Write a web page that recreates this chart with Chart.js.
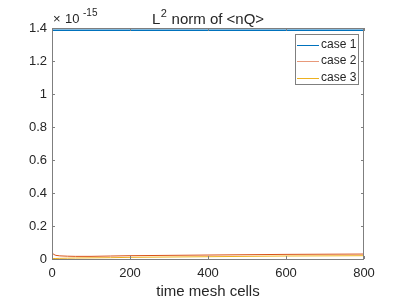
<!DOCTYPE html>
<html>
<head>
<meta charset="utf-8">
<script src="https://cdn.jsdelivr.net/npm/chart.js@4/dist/chart.umd.min.js"></script>
<style>
  html, body { margin: 0; padding: 0; background: #fff; }
  #wrap { width: 402px; height: 301px; }
</style>
</head>
<body>
<div id="wrap"><canvas id="normChart"></canvas></div>
<script>
// values are in units of 1e-15
const caseLabels = ['case 1', 'case 2', 'case 3'];
const caseColors = ['#0072BD', '#D95319', '#EDB120'];
const meshCells = [0, 5, 10, 20, 40, 60, 100, 150, 200, 300, 400, 500, 600, 700, 800];
const case1 = [1.387, 1.387, 1.387, 1.387, 1.387, 1.387, 1.387, 1.387, 1.387, 1.387, 1.387, 1.387, 1.387, 1.387, 1.387];
const case2 = [0.038, 0.027, 0.022, 0.019, 0.017, 0.016, 0.016, 0.018, 0.020, 0.022, 0.024, 0.026, 0.028, 0.029, 0.030];
const case3 = [0.003, 0.003, 0.003, 0.004, 0.005, 0.006, 0.007, 0.008, 0.010, 0.012, 0.014, 0.016, 0.018, 0.019, 0.020];
const xTicks = [0, 200, 400, 600, 800];
const yTicks = [0, 0.2, 0.4, 0.6, 0.8, 1, 1.2, 1.4];

const fontFamily = '"Liberation Sans", Arial, Helvetica, sans-serif';
const axisColor = '#262626';

function toPoints(ys) {
    return meshCells.map((x, i) => ({ x: x, y: ys[i] }));
}

// MATLAB-like box, inward ticks, title, exponent and legend
const matlabAxes = {
    id: 'matlabAxes',
    afterDatasetsDraw(chart) {
        const ctx = chart.ctx;
        const a = chart.chartArea;
        const xs = chart.scales.x;
        const ys = chart.scales.y;
        ctx.save();

        ctx.strokeStyle = '#7f7f7f';
        ctx.lineWidth = 1;
        ctx.strokeRect(a.left + 0.5, a.top + 0.5, a.right - a.left - 1, a.bottom - a.top);

        const tl = 3;
        ctx.beginPath();
        xTicks.forEach(v => {
            const px = Math.round(xs.getPixelForValue(v)) + 0.5;
            ctx.moveTo(px, a.bottom); ctx.lineTo(px, a.bottom - tl);
            ctx.moveTo(px, a.top); ctx.lineTo(px, a.top + tl);
        });
        yTicks.forEach(v => {
            const py = Math.round(ys.getPixelForValue(v)) + 0.5;
            ctx.moveTo(a.left, py); ctx.lineTo(a.left + tl, py);
            ctx.moveTo(a.right, py); ctx.lineTo(a.right - tl, py);
        });
        ctx.stroke();

        // title
        ctx.fillStyle = axisColor;
        ctx.textBaseline = 'alphabetic';
        ctx.textAlign = 'left';
        const main = ' norm of <nQ>';
        ctx.font = '11px ' + fontFamily;
        const supW = ctx.measureText('2').width;
        ctx.font = '15px ' + fontFamily;
        const lW = ctx.measureText('L').width;
        const mW = ctx.measureText(main).width;
        let tx = (a.left + a.right) / 2 - (lW + supW + 1 + mW) / 2;
        ctx.fillText('L', tx, 24);
        ctx.font = '11px ' + fontFamily;
        ctx.fillText('2', tx + lW + 0.5, 17);
        ctx.font = '15px ' + fontFamily;
        ctx.fillText(main, tx + lW + supW + 1, 24);

        // exponent label
        ctx.font = '13px ' + fontFamily;
        ctx.fillText('\u00d7', 53, 23);
        ctx.fillText('10', 65, 23);
        ctx.font = '10px ' + fontFamily;
        ctx.fillText('-15', 83, 16);

        // legend
        const lx = 295, ly = 34, lw = 63, lh = 50;
        ctx.fillStyle = '#ffffff';
        ctx.fillRect(lx, ly, lw, lh);
        ctx.strokeStyle = '#7f7f7f';
        ctx.strokeRect(lx + 0.5, ly + 0.5, lw, lh);
        ctx.font = '12px ' + fontFamily;
        ctx.textBaseline = 'middle';
        chart.data.datasets.forEach((ds, i) => {
            const yy = ly + 10.5 + i * 16.5;
            ctx.strokeStyle = i === 1 ? '#E8997A' : ds.borderColor;
            ctx.lineWidth = 1;
            ctx.beginPath();
            ctx.moveTo(lx + 2, Math.round(yy) + 0.5);
            ctx.lineTo(lx + 24, Math.round(yy) + 0.5);
            ctx.stroke();
            ctx.fillStyle = axisColor;
            ctx.fillText(ds.label, lx + 26, yy);
        });
        ctx.restore();
    }
};

const datasets = [case1, case2, case3].map((vals, i) => ({
    label: caseLabels[i],
    data: toPoints(vals),
    borderColor: caseColors[i],
    borderWidth: i === 0 ? 1.5 : 1,
    pointRadius: 0,
    tension: 0,
    fill: false
}));

new Chart(document.getElementById('normChart'), {
    type: 'line',
    data: { datasets: datasets },
    options: {
        responsive: true,
        maintainAspectRatio: false,
        animation: false,
        layout: { padding: { top: 28, right: 38, left: 0, bottom: 0 } },
        plugins: {
            legend: { display: false },
            title: { display: false },
            tooltip: { enabled: false }
        },
        scales: {
            x: {
                type: 'linear',
                min: 0,
                max: 800,
                grid: { display: false, drawTicks: false, tickLength: 0 },
                border: { display: false },
                afterFit(scale) { scale.height = 42; },
                afterBuildTicks(scale) { scale.ticks = xTicks.map(v => ({ value: v })); },
                ticks: {
                    color: axisColor,
                    padding: 7,
                    maxRotation: 0,
                    font: { family: fontFamily, size: 13 }
                },
                title: {
                    display: true,
                    text: 'time mesh cells',
                    color: axisColor,
                    padding: { top: 0, bottom: 0 },
                    font: { family: fontFamily, size: 15 }
                }
            },
            y: {
                type: 'linear',
                min: 0,
                max: 1.4,
                grid: { display: false, drawTicks: false, tickLength: 0 },
                border: { display: false },
                afterFit(scale) { scale.width = 52; },
                afterBuildTicks(scale) { scale.ticks = yTicks.map(v => ({ value: v })); },
                ticks: {
                    color: axisColor,
                    padding: 5,
                    font: { family: fontFamily, size: 13 },
                    callback: v => String(Number(v.toFixed(1)))
                }
            }
        }
    },
    plugins: [matlabAxes]
});
</script>
</body>
</html>
